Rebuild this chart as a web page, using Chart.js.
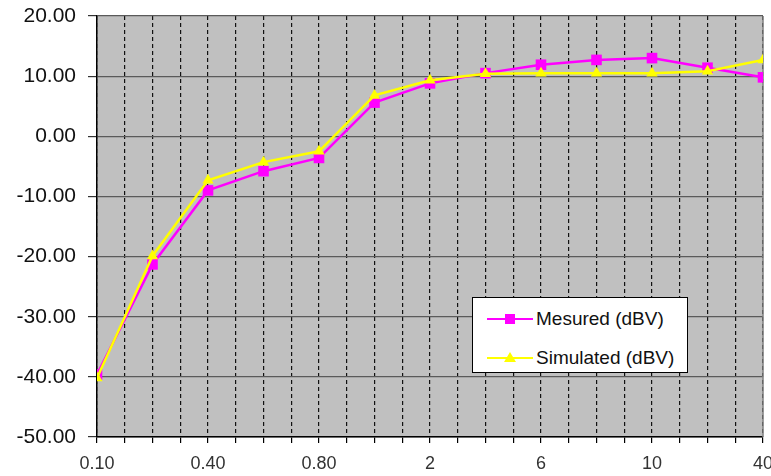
<!DOCTYPE html>
<html>
<head>
<meta charset="utf-8">
<script src="https://cdn.jsdelivr.net/npm/chart.js@4/dist/chart.umd.min.js"></script>
<style>
  html, body { margin: 0; padding: 0; background: #fff; }
  #wrap { position: relative; width: 771px; height: 476px; }
  #legend {
    position: absolute; left: 472px; top: 297px; width: 216px; height: 76px;
    background: #fff; border: 1.5px solid #000; box-sizing: border-box;
    font-family: "Liberation Sans", Arial, sans-serif; font-size: 19px; color: #111;
  }
  .item { position: absolute; left: 14px; height: 24px; display: flex; align-items: center; }
  .item svg { margin-right: 3px; }
</style>
</head>
<body>
<div id="wrap">
  <canvas id="c" width="771" height="476"></canvas>
  <div id="legend"></div>
</div>
<script>
// Frequency categories (every other label shown on the axis)
const categories = ["0.10", "0.20", "0.40", "0.60", "0.80", "1", "2", "4", "6", "8", "10", "20", "40"];
// Series values (dBV)
const measured  = [-39.6, -21.3, -9.0, -5.8, -3.6, 5.6, 8.8, 10.5, 11.9, 12.7, 13.0, 11.4, 9.8];
const simulated = [-40.2, -19.9, -7.3, -4.3, -2.5, 6.8, 9.3, 10.4, 10.5, 10.5, 10.5, 10.8, 12.7];
// Y-axis tick range
const yTicks = [-50, -40, -30, -20, -10, 0, 10, 20];

const seriesNames = ["Mesured (dBV)", "Simulated (dBV)"];

const toPts = arr => arr.map((v, i) => ({ x: i, y: v }));

const datasets = [
  {
    label: seriesNames[0], data: toPts(measured),
    borderColor: "#ff00ff", backgroundColor: "#ff00ff",
    borderWidth: 2.5, pointStyle: "rect", pointRadius: 7.5,
    pointBorderWidth: 0, order: 2, tension: 0
  },
  {
    label: seriesNames[1], data: toPts(simulated),
    borderColor: "#ffff00", backgroundColor: "#ffff00",
    borderWidth: 2.5, pointStyle: "triangle", pointRadius: 6.5,
    pointBorderWidth: 0, order: 1, tension: 0
  }
];

const plotBg = {
  id: "plotBg",
  beforeDraw(chart) {
    const { ctx, chartArea: a } = chart;
    ctx.save();
    ctx.fillStyle = "#c0c0c0";
    ctx.fillRect(a.left, a.top, a.right - a.left, a.bottom - a.top);
    ctx.restore();
  },
  beforeDatasetsDraw(chart) {
    const { ctx, chartArea: a } = chart;
    ctx.save();
    ctx.strokeStyle = "#808080";
    ctx.lineWidth = 1.5;
    ctx.beginPath();
    ctx.moveTo(a.right, a.top);
    ctx.lineTo(a.right, a.bottom);
    ctx.stroke();
    ctx.restore();
  }
};

new Chart(document.getElementById("c"), {
  type: "line",
  data: { datasets },
  plugins: [plotBg],
  options: {
    responsive: false,
    animation: false,
    layout: { padding: { left: 0, right: 8, top: 16, bottom: 0 } },
    plugins: { legend: { display: false }, tooltip: { enabled: false } },
    scales: {
      x: {
        type: "linear",
        min: 0, max: categories.length - 1,
        afterBuildTicks(scale) {
          const t = [];
          for (let v = 0; v <= categories.length - 1; v += 0.5) t.push({ value: v });
          scale.ticks = t;
        },
        afterFit(scale) {
          scale.height = 39;
          scale.paddingLeft = 0; scale.paddingRight = 0;
        },
        ticks: {
          autoSkip: false, maxRotation: 0, padding: 10,
          color: "#333",
          font: { family: "Liberation Sans Narrow, Liberation Sans, Arial", size: 18 },
          callback(v) {
            return (Number.isInteger(v) && v % 2 === 0) ? categories[v] : "";
          }
        },
        grid: {
          color: "#111", lineWidth: 1.2, tickLength: 6, tickColor: "#000",
          tickBorderDash: [], drawOnChartArea: true
        },
        border: { display: true, color: "#000", width: 1.5, dash: [4, 3] }
      },
      y: {
        min: yTicks[0], max: yTicks[yTicks.length - 1],
        afterBuildTicks(scale) { scale.ticks = yTicks.map(v => ({ value: v })); },
        afterFit(scale) {
          scale.width = 97;
          scale.paddingTop = 0; scale.paddingBottom = 0;
        },
        ticks: {
          padding: 12, color: "#111",
          font: { family: "Liberation Sans, Arial", size: 21 },
          callback: v => Number(v).toFixed(2)
        },
        grid: { color: "#5a5a5a", lineWidth: 1.2, tickLength: 9, tickColor: "#333" },
        border: { display: true, color: "#000", width: 1.5 }
      }
    }
  }
});

// HTML legend built from the datasets
const legend = document.getElementById("legend");
const marks = [
  '<svg width="46" height="20"><line x1="0" y1="10" x2="46" y2="10" stroke="#ff00ff" stroke-width="2"/><rect x="18" y="5" width="10" height="10" fill="#ff00ff"/></svg>',
  '<svg width="46" height="20"><line x1="0" y1="10" x2="46" y2="10" stroke="#ffff00" stroke-width="2"/><polygon points="23,4 29,14 17,14" fill="#ffff00"/></svg>'
];
seriesNames.forEach((name, i) => {
  const d = document.createElement("div");
  d.className = "item";
  d.style.top = (i === 0 ? 9 : 48) + "px";
  d.innerHTML = marks[i] + "<span>" + name + "</span>";
  legend.appendChild(d);
});
</script>
</body>
</html>
